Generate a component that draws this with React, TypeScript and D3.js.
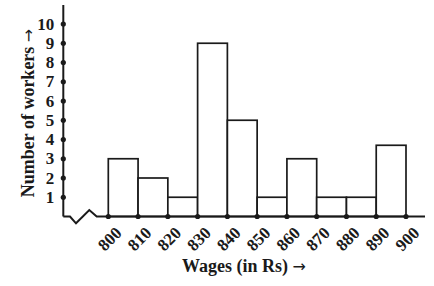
import React from "react";
import * as d3 from "d3";

const binStarts = [800, 810, 820, 830, 840, 850, 860, 870, 880, 890];
const workers = [3, 2, 1, 9, 5, 1, 3, 1, 1, 3.7];
const xTicks = [800, 810, 820, 830, 840, 850, 860, 870, 880, 890, 900];
const yTicks = [1, 2, 3, 4, 5, 6, 7, 8, 9, 10];
const binWidth = 10;

const W = 434;
const H = 286;
const axisX = 63.3;
const ink = "#1a1a1a";
const font = "'Liberation Serif', 'Times New Roman', serif";
const arrowFont = "'DejaVu Sans', sans-serif";

export default function App() {
  const x = d3.scaleLinear().domain([800, 900]).range([108.3, 406]);
  const y = d3.scaleLinear().domain([0, 10]).range([216.5, 24]);
  const base = y(0);

  const zig = d3.line()([
    [axisX, base],
    [70, base],
    [76, base + 6.8],
    [89.3, base - 6.5],
    [96.7, base],
    [425, base],
  ] as [number, number][]);

  return (
    <svg width={W} height={H} style={{ position: "absolute", left: 0, top: 0, background: "#fff" }}>
      <rect width={W} height={H} fill="#fff" />
      {binStarts.map((s, i) => (
        <rect
          key={s}
          x={x(s)}
          y={y(workers[i])}
          width={x(s + binWidth) - x(s)}
          height={base - y(workers[i])}
          fill="#fff"
          stroke={ink}
          strokeWidth={1.7}
        />
      ))}
      <line x1={axisX} x2={axisX} y1={5} y2={base} stroke={ink} strokeWidth={2} />
      <path d={zig ?? ""} fill="none" stroke={ink} strokeWidth={2} strokeLinejoin="miter" />
      {yTicks.map((t) => (
        <g key={t}>
          <circle cx={axisX} cy={y(t)} r={2.6} fill={ink} />
          <text
            x={axisX - 9}
            y={y(t)}
            textAnchor="end"
            dominantBaseline="central"
            fontFamily={font}
            fontWeight="bold"
            fontSize={17}
            fill={ink}
          >
            {t}
          </text>
        </g>
      ))}
      {xTicks.map((t) => (
        <g key={t}>
          <circle cx={x(t)} cy={base} r={2.6} fill={ink} />
          <text
            transform={`translate(${x(t) + 1.5},${239}) rotate(-45)`}
            textAnchor="middle"
            dominantBaseline="central"
            fontFamily={font}
            fontWeight="bold"
            fontSize={17}
            fill={ink}
          >
            {t}
          </text>
        </g>
      ))}
      <text
        x={244}
        y={272}
        textAnchor="middle"
        fontFamily={font}
        fontWeight="bold"
        fontSize={18}
        fill={ink}
      >
        Wages (in Rs){" "}
        <tspan fontFamily={arrowFont} fontWeight="normal" fontSize={16}>→</tspan>
      </text>
      <text
        transform={`translate(${34},${113}) rotate(-90)`}
        textAnchor="middle"
        fontFamily={font}
        fontWeight="bold"
        fontSize={18}
        fill={ink}
      >
        Number of workers{" "}
        <tspan fontFamily={arrowFont} fontWeight="normal" fontSize={16}>→</tspan>
      </text>
    </svg>
  );
}
